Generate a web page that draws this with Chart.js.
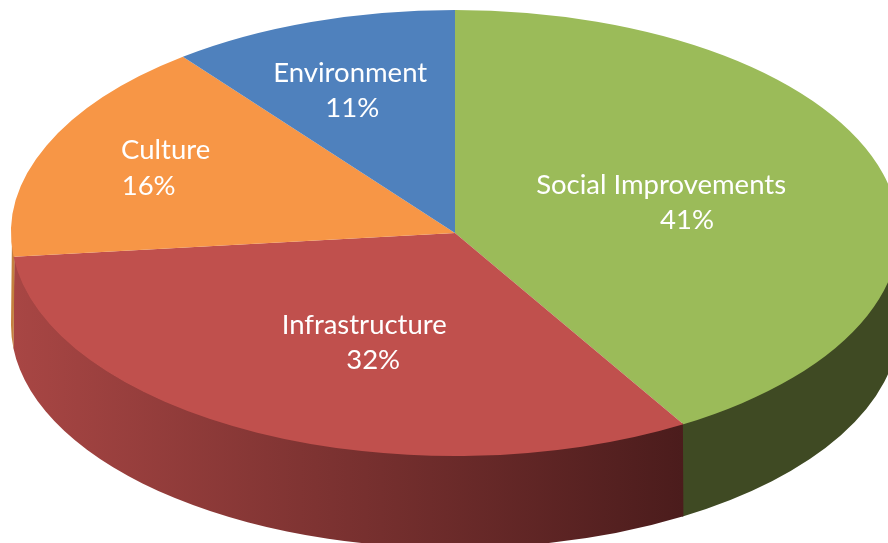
<!DOCTYPE html>
<html>
<head>
<meta charset="utf-8">
<style>
  html, body { margin: 0; padding: 0; background: #fff; overflow: hidden; }
  canvas { display: block; }
</style>
<script src="https://cdn.jsdelivr.net/npm/chart.js@4/dist/chart.umd.min.js"></script>
</head>
<body>
<canvas id="pie" width="888" height="543"></canvas>
<script>
// data (labels show the rounded share)
const categories = ['Social Improvements', 'Infrastructure', 'Culture', 'Environment'];
const shares = [41.4, 31.9, 16.2, 10.5];

// colours
const topColors = ['#9BBB59', '#C0504D', '#F79646', '#4F81BD'];
const wallColors = [
    ['#3F4A23', '#3F4A23'],
    ['#4B1C1C', '#A84644'],
    ['#C4803E', '#C4803E'],
    ['#3B5F8D', '#3B5F8D']
];

// flattened pie on the page
const PIE = { cx: 455, cy: 233, rx: 444, ry: 223, depth: 92 };

// label spot: radial fraction, shift of the name line and of the percent line
const labelSpots = [
    { r: 0.505, nameDx: -10, pctDx: 16 },
    { r: 0.55, nameDx: 18, pctDx: 27 },
    { r: 0.74, nameDx: 13, pctDx: -4 },
    { r: 0.673, nameDx: -8, pctDx: -6 }
];

const pie3d = {
    id: 'pie3d',
    beforeDatasetsDraw(chart) {
        const ctx = chart.ctx;
        const arcs = chart.getDatasetMeta(0).data;

        // side walls, only the part on the front half shows
        arcs.forEach((arc, i) => {
            const a0 = Math.max(arc.startAngle, 0);
            const a1 = Math.min(arc.endAngle + 0.004, Math.PI);
            if (a1 <= a0) return;
            const x0 = PIE.cx + PIE.rx * Math.cos(a0);
            const x1 = PIE.cx + PIE.rx * Math.cos(a1);
            const grad = ctx.createLinearGradient(x0, 0, x1, 0);
            grad.addColorStop(0, wallColors[i][0]);
            grad.addColorStop(1, wallColors[i][1]);
            ctx.beginPath();
            // top edge sits a little under the pie face so no pale seam shows
            ctx.ellipse(PIE.cx, PIE.cy, PIE.rx - 1, PIE.ry - 1, 0, a0, a1);
            ctx.ellipse(PIE.cx, PIE.cy + PIE.depth, PIE.rx, PIE.ry, 0, a1, a0, true);
            ctx.closePath();
            ctx.fillStyle = grad;
            ctx.fill();
        });

        // squash the round pie into the ellipse for the arcs drawn next
        const first = arcs[0];
        ctx.save();
        ctx.translate(PIE.cx, PIE.cy);
        ctx.scale(PIE.rx / first.outerRadius, PIE.ry / first.outerRadius);
        ctx.translate(-first.x, -first.y);
    },
    afterDatasetsDraw(chart) {
        const ctx = chart.ctx;
        ctx.restore();

        ctx.save();
        ctx.font = '27.5px Lato, "Open Sans", sans-serif';
        ctx.fillStyle = '#fff';
        ctx.textAlign = 'center';
        ctx.textBaseline = 'middle';
        chart.getDatasetMeta(0).data.forEach((arc, i) => {
            const spot = labelSpots[i];
            const mid = (arc.startAngle + arc.endAngle) / 2;
            const x = PIE.cx + PIE.rx * spot.r * Math.cos(mid);
            const y = PIE.cy + PIE.ry * spot.r * Math.sin(mid);
            ctx.fillText(categories[i], x + spot.nameDx, y - 18);
            ctx.fillText(Math.round(shares[i]) + '%', x + spot.pctDx, y + 17.5);
        });
        ctx.restore();
    }
};

new Chart(document.getElementById('pie'), {
    type: 'pie',
    data: {
        labels: categories,
        datasets: [{
            data: shares,
            backgroundColor: topColors,
            borderWidth: 0,
            clip: false
        }]
    },
    options: {
        responsive: false,
        animation: false,
        events: [],
        plugins: {
            legend: { display: false },
            tooltip: { enabled: false }
        }
    },
    plugins: [pie3d]
});
</script>
</body>
</html>
